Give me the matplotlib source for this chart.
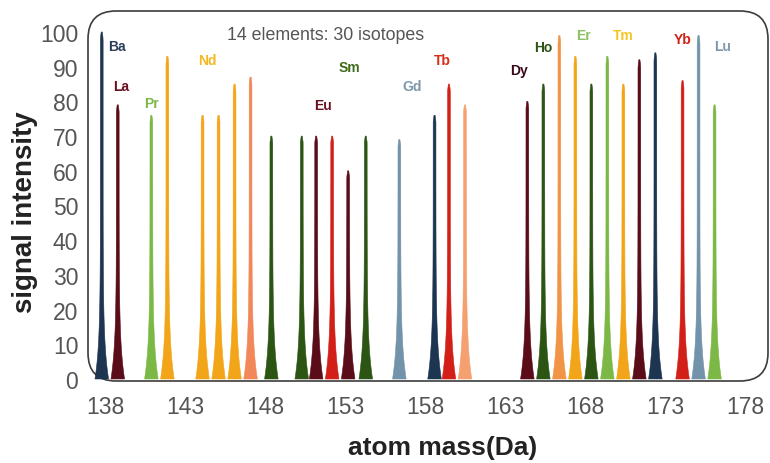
import numpy as np
import matplotlib
matplotlib.use('Agg')
import matplotlib.pyplot as plt
from matplotlib.patches import FancyBboxPatch

plt.rcParams['font.family'] = ['Liberation Sans', 'DejaVu Sans']

# --- данные: пики изотопов ---
masses = [137.8, 138.8, 140.9, 141.9, 144.1, 145.1, 146.1, 147.1, 148.4, 150.3,
          151.2, 152.2, 153.2, 154.3, 156.4, 158.6, 159.5, 160.5, 164.4, 165.4,
          166.4, 167.4, 168.4, 169.4, 170.4, 171.4, 172.4, 174.1, 175.1, 176.1]
heights = [100, 79, 76, 93, 76, 76, 85, 87, 70, 70,
           70, 70, 60, 70, 69, 76, 85, 79, 80, 85,
           99, 93, 85, 93, 85, 92, 94, 86, 99, 79]

NAVY = '#1d3550'
MAROON = '#5a0d18'
GREEN = '#7cb845'
YELLOW = '#f2a518'
SALMON = '#f2875a'
LSALMON = '#f5a070'
DGREEN = '#2c5514'
RED = '#d22018'
BGREY = '#7393aa'
ORANGE = '#f29448'

peak_colors = [NAVY, MAROON, GREEN, YELLOW, YELLOW, YELLOW, YELLOW, SALMON, DGREEN, DGREEN,
               MAROON, RED, MAROON, DGREEN, BGREY, NAVY, RED, LSALMON, MAROON, DGREEN,
               ORANGE, YELLOW, DGREEN, GREEN, YELLOW, MAROON, NAVY, RED, BGREY, GREEN]

# подписи элементов
elements = ['Ba', 'La', 'Pr', 'Nd', 'Eu', 'Sm', 'Gd', 'Tb', 'Dy', 'Ho', 'Er', 'Tm', 'Yb', 'Lu']
elem_x = [138.75, 139.0, 140.9, 144.4, 151.6, 153.25, 157.2, 159.1, 163.9, 165.4, 167.9, 170.4, 174.1, 176.6]
elem_y = [96, 84.4, 79.5, 92, 79, 90, 84.4, 92, 89, 95.7, 99, 99, 98, 96]
elem_colors = ['#2a3f5a', '#6a1020', '#7cb845', '#f5b820', '#6a1020', '#3d6b1a', '#7c98ad',
               '#d63018', '#3a0a18', '#2c5514', '#8cc060', '#f5c520', '#d22018', '#7c98ad']

xticks = [138, 143, 148, 153, 158, 163, 168, 173, 178]
yticks = list(range(0, 101, 10))

fig = plt.figure(figsize=(7.7, 4.64), dpi=100)
ax = fig.add_axes([88 / 770, 82 / 464, 680 / 770, 370 / 464])
ax.set_xlim(136.94, 179.44)
ax.set_ylim(-0.58, 106.05)

# рамка со скруглёнными углами
W, H = 680, 370
r = 28 / W
frame = FancyBboxPatch((0, 0), 1, 1, boxstyle=f'round,pad=0,rounding_size={r}',
                       mutation_aspect=W / H, transform=ax.transAxes,
                       facecolor='white', edgecolor='#3c3c3c', linewidth=1.2,
                       clip_on=False, zorder=0)
ax.add_patch(frame)

for s in ax.spines.values():
    s.set_visible(False)

# пики: узкая линия с расширением у основания
for m, h, c in zip(masses, heights, peak_colors):
    ys = np.linspace(0, h, 80)
    hw = 0.085 + 0.34 * np.exp(-ys / 10)
    hw = hw * np.clip((h - ys) / 3 + 0.4, 0.4, 1)
    xs = np.concatenate([m - hw, (m + hw)[::-1]])
    yy = np.concatenate([ys, ys[::-1]])
    ax.fill(xs, yy, color=c, linewidth=0.4, edgecolor=c, zorder=2, clip_on=False)

for name, x, y, c in zip(elements, elem_x, elem_y, elem_colors):
    ax.text(x, y, name, color=c, fontsize=10, fontweight='bold', ha='center', va='center', zorder=3)

ax.text(151.8, 99.3, '14 elements: 30 isotopes', color='#555555', fontsize=12.8,
        ha='center', va='center')

ax.set_xticks(xticks)
ax.set_yticks(yticks)
ax.tick_params(length=0, labelsize=16.5, labelcolor='#555555')
ax.tick_params(axis='x', pad=10)
ax.tick_params(axis='y', pad=7)

fig.text(25 / 770, 1 - 212 / 464, 'signal intensity', rotation=90, fontsize=20,
         fontweight='bold', ha='center', va='center', color='#222222')
fig.text(443 / 770, 1 - 448 / 464, 'atom mass(Da)', fontsize=19, fontweight='bold',
         ha='center', va='center', color='#222222')

fig.savefig('out.png', dpi=100)
